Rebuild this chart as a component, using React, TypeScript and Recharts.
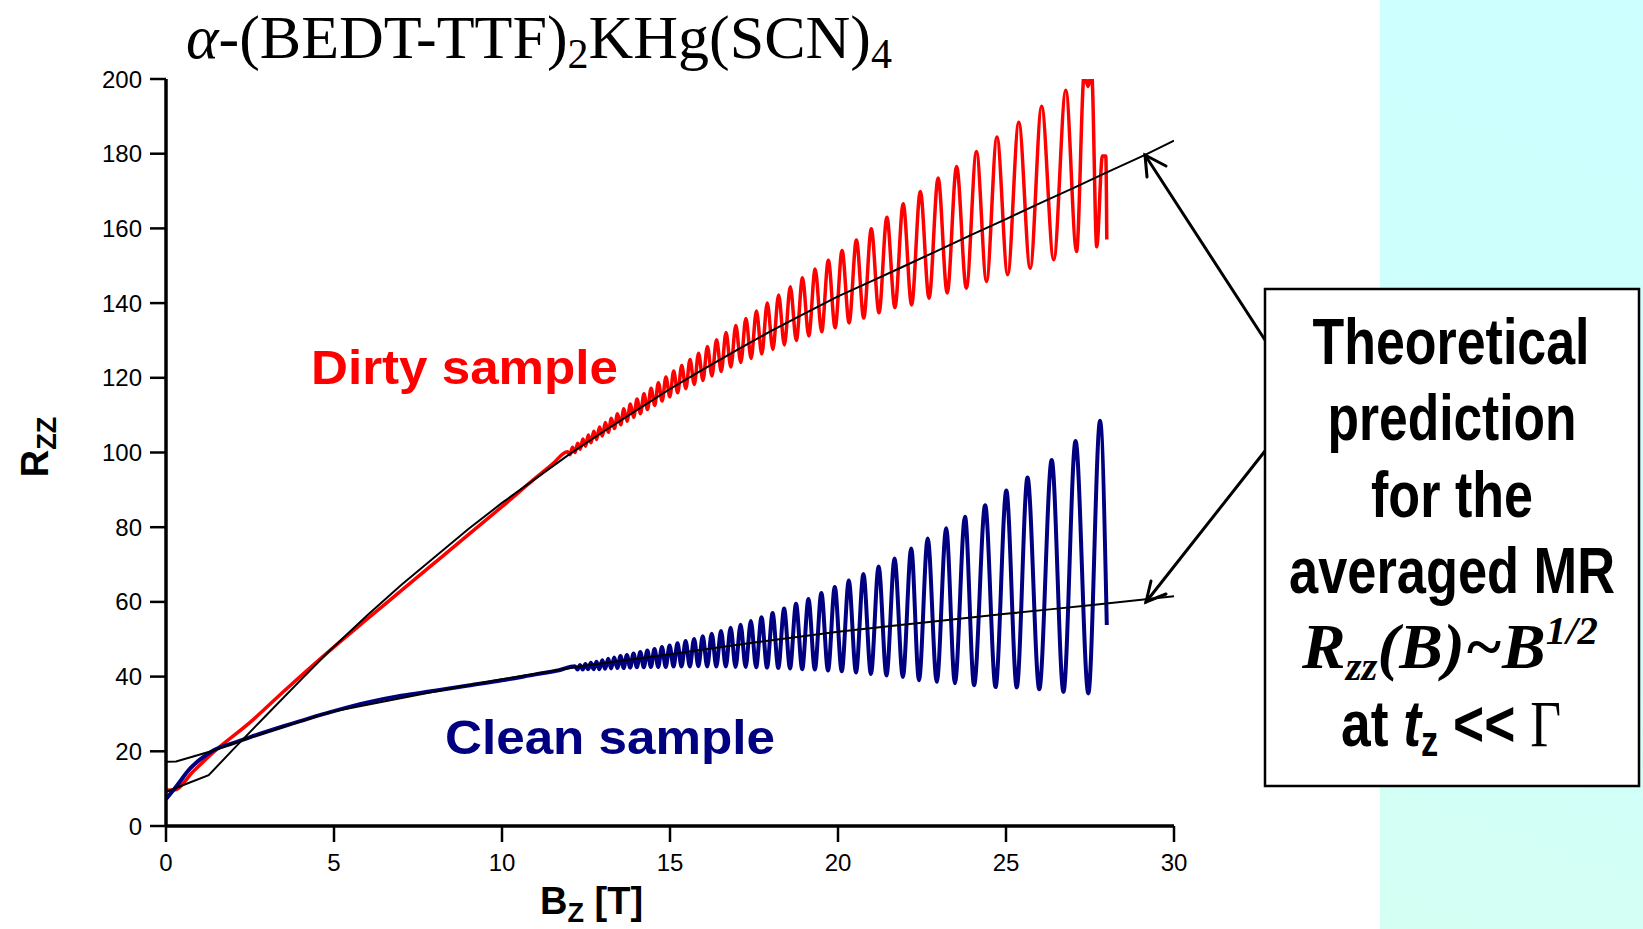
import React from 'react';
import { LineChart, Line, XAxis, YAxis } from 'recharts';

const W = 1643;
const H = 929;

// ---------- data (B in tesla, R_zz) ----------
const dirtyB = [
  0, 0.27, 0.8, 1.42, 2.51, 3.5, 4.89, 6, 7, 8, 9, 10, 11, 11.5,
  11.949, 12.023, 12.098, 12.174, 12.25, 12.328, 12.407, 12.487, 12.568, 12.649,
  12.732, 12.816, 12.902, 12.988, 13.075, 13.164, 13.254, 13.345, 13.437, 13.531,
  13.626, 13.722, 13.82, 13.919, 14.019, 14.121, 14.225, 14.33, 14.436, 14.544,
  14.654, 14.766, 14.879, 14.994, 15.11, 15.229, 15.349, 15.471, 15.596, 15.722,
  15.85, 15.981, 16.113, 16.248, 16.385, 16.525, 16.667, 16.811, 16.958, 17.107,
  17.259, 17.414, 17.572, 17.732, 17.895, 18.062, 18.232, 18.404, 18.58, 18.76,
  18.943, 19.13, 19.32, 19.514, 19.712, 19.914, 20.121, 20.331, 20.547, 20.766,
  20.991, 21.22, 21.455, 21.694,
  21.94, 22.19, 22.45, 22.71, 22.98, 23.25, 23.53, 23.82, 24.12, 24.42,
  24.73, 25.05, 25.38, 25.72, 26.06, 26.42, 26.78, 27.1, 27.33, 27.44,
  27.55, 27.7, 27.87, 27.97, 28.0,
];
const dirtyR = [
  9.6, 9.7, 14.5, 19.8, 27.8, 36, 47.1, 55.5, 63, 70.5, 78, 85.5, 93.2, 96.9,
  100.2, 99.4, 101.4, 100.0, 102.5, 100.9, 103.6, 101.7, 104.7, 102.6,
  105.7, 103.5, 106.8, 104.4, 108.0, 105.4, 109.2, 106.4, 110.4, 107.4,
  111.7, 108.4, 113.0, 109.4, 114.3, 110.4, 115.7, 111.5, 117.2, 112.6,
  118.7, 113.8, 120.2, 114.9, 121.8, 116.0, 123.3, 117.1, 124.9, 118.2,
  126.6, 119.3, 128.4, 120.5, 130.2, 121.7, 132.1, 122.9, 134.0, 124.1,
  135.9, 125.2, 137.9, 126.4, 140.0, 127.6, 142.2, 128.8, 144.4, 130.0,
  146.8, 131.2, 149.1, 132.3, 151.5, 133.4, 154.1, 134.7, 156.9, 136.0,
  159.9, 137.4, 163.0, 138.8,
  166.6, 139.5, 169.9, 141.3, 173.5, 142.7, 176.6, 144.0, 180.6, 145.8,
  184.5, 147.6, 188.4, 149.3, 192.7, 151.6, 197.0, 153.8, 201.5, 198,
  201.5, 155.1, 179.4, 179.4, 157,
];

const cleanB = [
  0, 0.3, 0.72, 1.0, 1.42, 2, 2.51, 3.5, 4.89, 6, 7, 8, 9, 10, 11, 11.7,
  12.17, 12.247, 12.324, 12.403, 12.483, 12.564, 12.645, 12.728, 12.812, 12.897,
  12.984, 13.071, 13.16, 13.249, 13.34, 13.433, 13.526, 13.621, 13.717, 13.815,
  13.914, 14.014, 14.116, 14.22, 14.325, 14.431, 14.539, 14.649, 14.76, 14.873,
  14.988, 15.105, 15.223, 15.343, 15.465, 15.59, 15.716, 15.844, 15.974, 16.107,
  16.242, 16.379, 16.518, 16.66, 16.804, 16.951, 17.1, 17.252, 17.406, 17.564,
  17.724, 17.888, 18.054, 18.223, 18.396, 18.572, 18.751, 18.934, 19.12, 19.311,
  19.505, 19.703, 19.904, 20.111, 20.321, 20.536, 20.756, 20.98, 21.209, 21.443,
  21.683,
  21.93, 22.18, 22.41, 22.67, 22.94, 23.22, 23.48, 23.78, 24.05, 24.38,
  24.69, 25.01, 25.32, 25.64, 25.99, 26.36, 26.71, 27.07, 27.45, 27.8, 28.0,
];
const cleanR = [
  7.2, 10.5, 15.4, 17.7, 20.3, 22.2, 23.8, 26.7, 30.5, 33.1, 34.9, 36.2, 37.6, 39.0, 40.6, 41.7,
  42.8, 41.9, 43.1, 41.9, 43.4, 42.0, 43.7, 42.0, 44.0, 42.0,
  44.4, 42.1, 44.8, 42.2, 45.1, 42.3, 45.5, 42.3, 45.8, 42.4,
  46.2, 42.5, 46.6, 42.5, 47.0, 42.6, 47.4, 42.6, 47.9, 42.6,
  48.3, 42.7, 48.9, 42.7, 49.5, 42.7, 50.1, 42.8, 50.8, 42.7,
  51.5, 42.7, 52.2, 42.7, 53.1, 42.6, 53.9, 42.6, 54.9, 42.5,
  55.9, 42.4, 57.0, 42.3, 58.2, 42.2, 59.5, 42.0, 60.8, 41.9,
  62.4, 41.6, 64.0, 41.4, 65.7, 41.1, 67.5, 40.7, 69.5, 40.3,
  71.6,
  39.9, 74.3, 39.0, 77.0, 38.6, 79.7, 38.2, 82.8, 37.7, 85.9,
  37.2, 89.8, 37.1, 93.3, 36.6, 98.0, 35.9, 103.1, 35.5, 108.5, 53.8,
];

const dirtyTheoryB = [0, 0.5, 1.27, 2, 3, 4, 4.89, 6, 7, 8, 9, 10, 11, 12, 13, 14, 15, 16, 17, 18, 19, 20, 21, 21.85, 23, 24, 25, 26, 27, 28, 29.14, 30];
const dirtyTheoryR = [9.1, 10.9, 13.6, 20.5, 29.8, 39, 47.1, 56.5, 64.5, 72, 79.5, 86.5, 93, 99.5, 105.5, 111.3, 117, 122.3, 127.5, 132.5, 137.2, 141.8, 145.9, 149.4, 154.2, 158.4, 162.5, 166.7, 170.8, 175, 179.7, 183.5];

const cleanTheoryB = [0, 0.3, 1.42, 2.51, 4.89, 8.46, 10, 12.5, 15, 17.5, 20, 21.85, 22.5, 25, 26.3, 27.5, 30];
const cleanTheoryR = [17.2, 17.3, 20.2, 23.7, 30.5, 36.8, 39.3, 43.0, 46.0, 49.1, 52.0, 53.8, 54.4, 56.8, 58.0, 59.1, 61.5];

const xMajorTicks = [0, 5, 10, 15, 20, 25, 30];
const xMinorTicks = [2.5, 7.5, 12.5, 17.5, 22.5, 27.5];
const yMajorTicks = [0, 20, 40, 60, 80, 100, 120, 140, 160, 180, 200];
const yMinorTicks = [10, 30, 50, 70, 90, 110, 130, 150, 170, 190];

const rows = (bs: number[], rs: number[]) => bs.map((b, i) => ({ b, r: rs[i] }));

const SANS = "Arial, 'Liberation Sans', sans-serif";
const SERIF = "'Times New Roman', 'Liberation Serif', serif";

export default function App() {
  return (
    <div style={{ position: 'absolute', left: 0, top: 0, width: W, height: H, background: '#ffffff', overflow: 'hidden' }}>
      <div
        style={{
          position: 'absolute', left: 1380, top: 0, width: W - 1380, height: H,
          background: 'linear-gradient(200deg, #ccffff 0%, #cffffb 60%, #d5fff3 100%)',
        }}
      />
      <div style={{ position: 'absolute', left: 0, top: 0 }}>
        <LineChart width={W} height={H} margin={{ top: 79, right: 469, bottom: 43, left: 66 }}>
          <XAxis
            xAxisId="minor" type="number" dataKey="b" domain={[0, 30]} ticks={xMinorTicks}
            allowDataOverflow height={0} tick={false} axisLine={false} tickSize={9}
            tickLine={{ stroke: '#000', strokeWidth: 2.5 }}
          />
          <XAxis
            type="number" dataKey="b" domain={[0, 30]} ticks={xMajorTicks} allowDataOverflow
            height={60} tickSize={16} tickMargin={12}
            axisLine={{ stroke: '#000', strokeWidth: 3.5 }}
            tickLine={{ stroke: '#000', strokeWidth: 2.5 }}
            tick={{ fill: '#000', fontSize: 24, fontFamily: SANS }}
          />
          <YAxis
            yAxisId="minor" type="number" domain={[0, 200]} ticks={yMinorTicks} allowDataOverflow
            width={0} tick={false} axisLine={false} tickSize={9}
            tickLine={{ stroke: '#000', strokeWidth: 2.5 }}
          />
          <YAxis
            type="number" domain={[0, 200]} ticks={yMajorTicks} allowDataOverflow
            width={100} tickSize={16} tickMargin={8}
            axisLine={{ stroke: '#000', strokeWidth: 3.5 }}
            tickLine={{ stroke: '#000', strokeWidth: 2.5 }}
            tick={{ fill: '#000', fontSize: 24, fontFamily: SANS }}
          />
          <Line data={rows(dirtyB, dirtyR)} dataKey="r" type="monotoneX" stroke="#ff0000" strokeWidth={3.5} dot={false} isAnimationActive={false} />
          <Line data={rows(cleanB, cleanR)} dataKey="r" type="monotoneX" stroke="#000080" strokeWidth={4} dot={false} isAnimationActive={false} />
          <Line data={rows(dirtyTheoryB, dirtyTheoryR)} dataKey="r" type="linear" stroke="#000" strokeWidth={2} dot={false} isAnimationActive={false} />
          <Line data={rows(cleanTheoryB, cleanTheoryR)} dataKey="r" type="linear" stroke="#000" strokeWidth={2} dot={false} isAnimationActive={false} />
        </LineChart>
      </div>
      <svg width={W} height={H} style={{ position: 'absolute', left: 0, top: 0, pointerEvents: 'none' }}>
        {/* title */}
        <text x={186} y={58} fontFamily={SERIF} fontSize={62} fill="#000">
          <tspan fontStyle="italic">α</tspan>
          <tspan>-(BEDT-TTF)</tspan>
          <tspan fontSize={42} dy={10}>2</tspan>
          <tspan dy={-10}>KHg(SCN)</tspan>
          <tspan fontSize={42} dy={10}>4</tspan>
        </text>
        {/* axis titles */}
        <text transform="translate(48,447) rotate(-90)" textAnchor="middle" fontFamily={SANS} fontWeight="bold" fontSize={38} fill="#000">
          <tspan>R</tspan>
          <tspan fontSize={27} dy={8}>ZZ</tspan>
        </text>
        <text x={540} y={914} fontFamily={SANS} fontWeight="bold" fontSize={38} fill="#000">
          <tspan>B</tspan>
          <tspan fontSize={27} dy={8}>Z</tspan>
          <tspan dy={-8}> [T]</tspan>
        </text>
        {/* series labels */}
        <text x={311} y={384} fontFamily={SANS} fontWeight="bold" fontSize={48} fill="#ff0000" textLength={307} lengthAdjust="spacingAndGlyphs">Dirty sample</text>
        <text x={445} y={754} fontFamily={SANS} fontWeight="bold" fontSize={48} fill="#000080" textLength={330} lengthAdjust="spacingAndGlyphs">Clean sample</text>
        {/* arrows */}
        <g stroke="#000" strokeWidth={3} strokeLinecap="round" fill="none">
          <line x1={1265} y1={340} x2={1145} y2={155} />
          <polyline points="1166,166 1145,155 1147,177" />
          <line x1={1265} y1={451} x2={1146} y2={602} />
          <polyline points="1166,594 1146,602 1151,581" />
        </g>
        {/* box */}
        <rect x={1265} y={289} width={374} height={497} fill="#ffffff" stroke="#000" strokeWidth={2.5} />
        <g fontFamily={SANS} fontWeight="bold" fontSize={65} fill="#000" textAnchor="middle">
          <text x={1451} y={364} textLength={277} lengthAdjust="spacingAndGlyphs">Theoretical</text>
          <text x={1452} y={440} textLength={249} lengthAdjust="spacingAndGlyphs">prediction</text>
          <text x={1452} y={517} textLength={162} lengthAdjust="spacingAndGlyphs">for the</text>
          <text x={1452} y={593} textLength={326} lengthAdjust="spacingAndGlyphs">averaged MR</text>
        </g>
        <text x={1302} y={668} fontFamily={SERIF} fontWeight="bold" fontStyle="italic" fontSize={64} fill="#000" textLength={296} lengthAdjust="spacingAndGlyphs">
          <tspan>R</tspan>
          <tspan fontSize={40} dy={12}>zz</tspan>
          <tspan dy={-12}>(B)~B</tspan>
          <tspan fontSize={40} dy={-24}>1/2</tspan>
        </text>
        <text x={1341} y={746} fontFamily={SANS} fontWeight="bold" fontSize={65} fill="#000" textLength={220} lengthAdjust="spacingAndGlyphs">
          <tspan>at </tspan>
          <tspan fontStyle="italic">t</tspan>
          <tspan fontSize={42} dy={10}>z</tspan>
          <tspan dy={-10}> &lt;&lt; </tspan>
          <tspan fontFamily={SERIF} fontWeight="normal">Γ</tspan>
        </text>
      </svg>
    </div>
  );
}
